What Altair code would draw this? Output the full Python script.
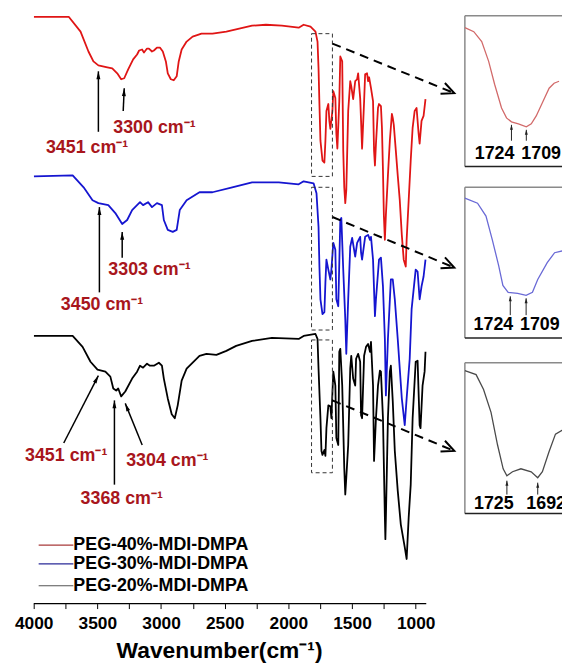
import math
import altair as alt
import pandas as pd

FONT = "Liberation Sans"

SERIES = ["PEG-40%-MDI-DMPA", "PEG-30%-MDI-DMPA", "PEG-20%-MDI-DMPA"]
LINE_COLORS = ["#e01515", "#1515d0", "#000000"]
LEGEND_COLORS = ["#a83a3a", "#2a2a98", "#555555"]
INSET_COLORS = ["#d26a6a", "#6a6ad6", "#4a4a4a"]
LABEL_RED = "#a8161c"

# ---------------- main spectra (wavenumber, offset transmittance a.u.) -------------
red_wn = [3998, 3904, 3725, 3632, 3570, 3531, 3492, 3422, 3383, 3344, 3313, 3289, 3258, 3219, 3188,
          3172, 3149, 3134, 3110, 3095, 3071, 3056, 3032, 3009, 2986, 2962, 2947, 2923, 2900, 2877,
          2861, 2838, 2799, 2752, 2682, 2596, 2487, 2386, 2285, 2176, 2051, 1919,
          1880, 1826, 1787, 1771, 1763, 1756, 1748, 1732, 1717, 1709, 1701, 1686, 1678, 1670, 1654,
          1647, 1631, 1623, 1615, 1600, 1592, 1577, 1569, 1561, 1553, 1545, 1530, 1514, 1506, 1491,
          1475, 1460, 1452, 1436, 1429, 1421, 1405, 1397, 1382, 1374, 1366, 1351, 1335, 1327, 1320,
          1312, 1296, 1288, 1273, 1265, 1257, 1250, 1242, 1234, 1218, 1203, 1187, 1180, 1172, 1156,
          1141, 1125, 1109, 1094, 1078, 1071, 1055, 1039, 1024, 1008, 993, 977, 969, 954, 938, 923]
red_t = [592, 592, 592, 577, 557, 547, 543, 541, 540, 535, 529, 530, 539, 549, 554,
         558, 559, 556, 560, 560, 557, 558, 561, 561, 557, 547, 535, 529, 528, 532,
         547, 559, 567, 572, 575, 575, 577, 580, 583, 584, 583, 581,
         584, 582, 577, 567, 540, 504, 467, 447, 445, 467, 497, 504, 487, 479, 497,
         517, 510, 474, 459, 507, 552, 547, 457, 420, 404, 417, 497, 527, 522, 509,
         527, 529, 535, 510, 487, 459, 507, 534, 535, 527, 531, 520, 507, 457, 442,
         464, 500, 504, 502, 480, 437, 392, 367, 392, 432, 467, 494, 490, 483, 457,
         432, 407, 372, 347, 340, 367, 407, 447, 480, 497, 500, 474, 464, 487, 492, 509]

blue_wn = [3998, 3694, 3608, 3538, 3492, 3414, 3359, 3305, 3266, 3227, 3204, 3165, 3141, 3102, 3071,
           3032, 2993, 2978, 2947, 2908, 2877, 2853, 2799, 2698, 2596, 2441, 2285, 2075, 1919,
           1880, 1802, 1779, 1763, 1756, 1748, 1732, 1717, 1709, 1701, 1686, 1670, 1662, 1647, 1631,
           1623, 1608, 1592, 1584, 1569, 1553, 1545, 1530, 1514, 1499, 1475, 1460, 1436, 1429, 1421,
           1397, 1374, 1359, 1351, 1335, 1320, 1312, 1288, 1273, 1257, 1242, 1234, 1218, 1195, 1180,
           1164, 1141, 1109, 1086, 1071, 1047, 1032, 1000, 985, 969, 954, 938, 923]
blue_t = [431, 432, 420, 407, 404, 402, 394, 383, 387, 397, 400, 405, 402, 405, 400,
          404, 402, 387, 377, 375, 377, 397, 407, 415, 415, 420, 425, 425, 423,
          426, 424, 414, 380, 340, 307, 292, 294, 324, 347, 337, 327, 337, 364, 357,
          307, 300, 387, 389, 337, 287, 252, 307, 360, 369, 350, 364, 370, 354, 347,
          370, 372, 367, 370, 347, 290, 307, 347, 349, 320, 267, 210, 267, 327, 327,
          307, 267, 207, 180, 207, 247, 297, 337, 335, 307, 320, 330, 347]

black_wn = [3998, 3694, 3616, 3554, 3499, 3437, 3398, 3375, 3352, 3336, 3313, 3281, 3227, 3188, 3165,
            3141, 3110, 3087, 3056, 3017, 2993, 2978, 2947, 2916, 2892, 2869, 2838, 2799, 2698, 2643,
            2565, 2487, 2410, 2285, 2129, 1919,
            1880, 1787, 1771, 1763, 1748, 1740, 1732, 1717, 1709, 1701, 1686, 1670, 1662, 1647, 1631,
            1623, 1608, 1600, 1592, 1577, 1561, 1553, 1545, 1530, 1514, 1506, 1491, 1475, 1468, 1452,
            1436, 1429, 1421, 1405, 1390, 1374, 1359, 1351, 1335, 1327, 1312, 1296, 1281, 1273, 1257,
            1242, 1238, 1234, 1218, 1203, 1195, 1180, 1164, 1141, 1117, 1086, 1071, 1055, 1039, 1024,
            1000, 985, 969, 962, 946, 930, 923]
black_t = [270, 270, 259, 244, 236, 234, 229, 217, 215, 217, 209, 214, 227, 234, 240,
           238, 242, 240, 240, 243, 240, 227, 207, 191, 187, 200, 225, 237, 250, 252,
           251, 255, 260, 265, 268, 267,
           270, 272, 267, 237, 187, 154, 150, 155, 149, 177, 200, 199, 187, 234, 220,
           167, 160, 254, 257, 220, 137, 110, 127, 160, 237, 250, 227, 220, 247, 252,
           244, 190, 187, 250, 259, 262, 254, 264, 220, 144, 187, 220, 235, 234, 187,
           87, 65, 87, 187, 234, 240, 204, 154, 114, 80, 57, 45, 87, 120, 187,
           244, 245, 180, 177, 220, 234, 254]

# peak labels (text, wavenumber of left edge, level)
label_text = ["3451 cm⁻¹", "3300 cm⁻¹", "3450 cm⁻¹", "3303 cm⁻¹", "3451 cm⁻¹", "3304 cm⁻¹", "3368 cm⁻¹"]
label_wn = [3904, 3375, 3787, 3414, 4068, 3274, 3632]
label_t = [460, 480, 301, 337, 149, 144, 105]

# peak arrows: tail -> tip
arrow_wn0 = [3492, 3297, 3484, 3305, 3764, 3366, 3148]
arrow_t0 = [476, 497, 314, 349, 162, 120, 160]
arrow_wn1 = [3492, 3289, 3484, 3305, 3492, 3366, 3281]
arrow_t1 = [537, 520, 400, 375, 230, 205, 202]

# dashed zoom boxes and zoom arrows
box_wn = [1818, 1654]
box_t0 = [431, 276, 132]
box_t1 = [575, 420, 266]
zoom_wn0 = [1654, 1654, 1654]
zoom_t0 = [565, 390, 205]
zoom_wn1 = [697, 697, 697]
zoom_t1 = [515, 339, 154]

# ---------------- insets (carbonyl region) -------------
in1_wn = [1771, 1762, 1754, 1747, 1741, 1734, 1729, 1724, 1717, 1709, 1704, 1699, 1692, 1686, 1681, 1676]
in1_t = [140, 136, 126, 106, 83, 59, 49, 45, 43, 40, 43, 51, 66, 79, 84, 86]
in2_wn = [1767, 1755, 1747, 1741, 1735, 1731, 1726, 1717, 1709, 1703, 1698, 1689, 1682, 1674]
in2_t = [141, 136, 123, 99, 73, 53, 46, 45, 43, 46, 59, 76, 86, 88]
in3_wn = [1770, 1758, 1750, 1742, 1735, 1729, 1725, 1719, 1710, 1699, 1692, 1687, 1680, 1673, 1664]
in3_t = [144, 140, 125, 102, 69, 45, 38, 42, 45, 42, 36, 42, 62, 80, 85]

in_labels = [["1724", "1709"], ["1724", "1709"], ["1725", "1692"]]
in_label_wn = [[1741, 1694], [1740, 1696], [1739, 1683]]
in_label_t = [13, 13, 9]
in_arrow_wn = [[1724, 1709], [1724, 1709], [1725, 1692]]
in_arrow_t0 = [[26, 26], [23, 23], [19, 19]]
in_arrow_t1 = [[42, 37], [42, 40], [33, 31]]
in_domains = [[1771, 1673], [1767, 1675], [1770, 1666]]

# ---------------- layout -------------
W_MAIN, H_MAIN = 427, 593
X_DOM = [4000, 676]
Y_DOM = [0, 593]
PX_WN = W_MAIN / (X_DOM[0] - X_DOM[1])
PX_T = H_MAIN / (Y_DOM[1] - Y_DOM[0])
XS = alt.Scale(domain=X_DOM, nice=False, zero=False)
YS = alt.Scale(domain=Y_DOM, nice=False, zero=False)

TRI = "M0,0L0.5,2L-0.5,2Z"
CHEV = "M-0.42,0.9L0,0L0.42,0.9"


def head_angle(wn0, t0, wn1, t1, pxw, pxt):
    dx = (wn0 - wn1) * pxw
    dy = -(t1 - t0) * pxt
    return math.degrees(math.atan2(dx, -dy)) % 360


AXIS_X = alt.Axis(
    values=list(range(1000, 4001, 250)),
    labelExpr="datum.value % 500 === 0 ? datum.value : ''",
    domain=False, grid=False, tickSize=5, tickColor="black", tickWidth=1,
    labelFont=FONT, labelFontSize=17.5, labelFontWeight="bold", labelColor="black",
    labelPadding=6, labelFlush=False, labelOverlap=False,
    title="Wavenumber(cm⁻¹)", titleFont=FONT, titleFontSize=23, titleFontWeight="bold",
    titleColor="black", titlePadding=8, titleX=187,
)


def xq(field):
    return alt.X(field, type="quantitative", scale=XS, axis=AXIS_X)


def yq(field):
    return alt.Y(field, type="quantitative", scale=YS, axis=None)


layers = []
spectra = [(black_wn, black_t, 2), (blue_wn, blue_t, 1), (red_wn, red_t, 0)]
for wn, t, i in spectra:
    df = pd.DataFrame({"wn": wn, "T": t, "series": SERIES[i]})
    layers.append(
        alt.Chart(df).mark_line(color=LINE_COLORS[i], strokeWidth=1.8, strokeJoin="round").encode(
            x=xq("wn"), y=yq("T")
        )
    )

axis_df = pd.DataFrame({"wn": [4000], "b": [917], "T": [0]})
layers.append(alt.Chart(axis_df).mark_rule(color="black", strokeWidth=1.3).encode(
    x=xq("wn"), x2="b", y=yq("T")))

box_df = pd.DataFrame({"wn": [box_wn[0]] * 3, "wn1": [box_wn[1]] * 3, "T": box_t0, "t1": box_t1})
layers.append(alt.Chart(box_df).mark_rect(fillOpacity=0, stroke="#333333", strokeWidth=1,
                                          strokeDash=[4, 3]).encode(
    x=xq("wn"), x2="wn1", y=yq("T"), y2="t1"))

zoom_df = pd.DataFrame({"wn": zoom_wn0, "T": zoom_t0, "wn1": zoom_wn1, "t1": zoom_t1})
zoom_df["angle"] = [head_angle(a, b, c, d, PX_WN, PX_T) for a, b, c, d in
                    zip(zoom_wn0, zoom_t0, zoom_wn1, zoom_t1)]
layers.append(alt.Chart(zoom_df).mark_rule(color="black", strokeWidth=2, strokeDash=[9, 6]).encode(
    x=xq("wn"), x2="wn1", y=yq("T"), y2="t1"))
layers.append(alt.Chart(zoom_df).mark_point(shape=CHEV, size=784, filled=False, color="black",
                                            strokeWidth=2, opacity=1).encode(
    x=xq("wn1"), y=yq("t1"), angle=alt.Angle("angle:Q", scale=None)))

arr_df = pd.DataFrame({"wn": arrow_wn0, "T": arrow_t0, "wn1": arrow_wn1, "t1": arrow_t1})
arr_df["angle"] = [head_angle(a, b, c, d, PX_WN, PX_T) for a, b, c, d in
                   zip(arrow_wn0, arrow_t0, arrow_wn1, arrow_t1)]
layers.append(alt.Chart(arr_df).mark_rule(color="black", strokeWidth=1.5).encode(
    x=xq("wn"), x2="wn1", y=yq("T"), y2="t1"))
layers.append(alt.Chart(arr_df).mark_point(shape=TRI, size=64, filled=True, color="black",
                                           opacity=1, strokeWidth=0).encode(
    x=xq("wn1"), y=yq("t1"), angle=alt.Angle("angle:Q", scale=None)))

lab_df = pd.DataFrame({"text": label_text, "wn": label_wn, "T": label_t})
layers.append(alt.Chart(lab_df).mark_text(align="left", baseline="middle", font=FONT, fontSize=18,
                                          fontWeight="bold", color=LABEL_RED).encode(
    x=xq("wn"), y=yq("T"), text="text:N"))

legend_y = [534, 553, 575]
for i, name in enumerate(SERIES):
    ldf = pd.DataFrame({"s": [name]})
    layers.append(alt.Chart(ldf).mark_rule(color=LEGEND_COLORS[i], strokeWidth=1.2).encode(
        x=alt.value(5), x2=alt.value(40), y=alt.value(legend_y[i])))
    layers.append(alt.Chart(ldf).mark_text(align="left", baseline="middle", font=FONT, fontSize=18,
                                           fontWeight="bold", color="black").encode(
        x=alt.value(40), y=alt.value(legend_y[i]), text="s:N"))

main = alt.layer(*layers).properties(width=W_MAIN, height=H_MAIN)

# ---------------- inset charts -------------
W_IN, H_IN = 98, 152


def make_inset(k, wn, t):
    xs = alt.Scale(domain=in_domains[k], nice=False, zero=False)
    ys = alt.Scale(domain=[0, H_IN], nice=False, zero=False)
    pxw = W_IN / (in_domains[k][0] - in_domains[k][1])
    one = pd.DataFrame({"k": [0]})
    ls = []
    ls.append(alt.Chart(one).mark_rule(color="#8a8a8a", strokeWidth=1.5).encode(
        x=alt.value(0), x2=alt.value(W_IN), y=alt.value(0)))
    ls.append(alt.Chart(one).mark_rule(color="#8a8a8a", strokeWidth=1.5).encode(
        x=alt.value(0), y=alt.value(0), y2=alt.value(H_IN)))
    ls.append(alt.Chart(one).mark_rule(color="#222222", strokeWidth=1.5).encode(
        x=alt.value(0), x2=alt.value(W_IN), y=alt.value(H_IN)))
    cdf = pd.DataFrame({"wn": wn, "T": t})
    ls.append(alt.Chart(cdf).mark_line(color=INSET_COLORS[k], strokeWidth=1.3, clip=True).encode(
        x=alt.X("wn:Q", scale=xs, axis=None), y=alt.Y("T:Q", scale=ys, axis=None)))
    adf = pd.DataFrame({"wn": in_arrow_wn[k], "t0": in_arrow_t0[k], "t1": in_arrow_t1[k]})
    adf["angle"] = [head_angle(w, a, w, b, pxw, 1.0) for w, a, b in
                    zip(in_arrow_wn[k], in_arrow_t0[k], in_arrow_t1[k])]
    ls.append(alt.Chart(adf).mark_rule(color="#222222", strokeWidth=1).encode(
        x=alt.X("wn:Q", scale=xs, axis=None), y=alt.Y("t0:Q", scale=ys, axis=None), y2="t1"))
    ls.append(alt.Chart(adf).mark_point(shape="M0,0L0.6,2L-0.6,2Z", size=25, filled=True,
                                        color="#222222", opacity=1, strokeWidth=0).encode(
        x=alt.X("wn:Q", scale=xs, axis=None), y=alt.Y("t1:Q", scale=ys, axis=None),
        angle=alt.Angle("angle:Q", scale=None)))
    tdf = pd.DataFrame({"text": in_labels[k], "wn": in_label_wn[k], "T": [in_label_t[k]] * 2})
    ls.append(alt.Chart(tdf).mark_text(align="center", baseline="middle", font=FONT, fontSize=18,
                                       fontWeight="bold", color="black", clip=True).encode(
        x=alt.X("wn:Q", scale=xs, axis=None), y=alt.Y("T:Q", scale=ys, axis=None), text="text:N"))
    return alt.layer(*ls).properties(width=W_IN, height=H_IN)


in1 = make_inset(0, in1_wn, in1_t)
in2 = make_inset(1, in2_wn, in2_t)
in3 = make_inset(2, in3_wn, in3_t)

insets = alt.vconcat(in1, alt.vconcat(in2, in3, spacing=23), spacing=19)

chart = alt.hconcat(main, insets, spacing=5).properties(
    padding={"left": 14, "top": 12, "right": 0, "bottom": 0},
    background="white",
).configure_view(stroke=None)

chart.save("out.html", embed_options={"renderer": "svg", "actions": False})
